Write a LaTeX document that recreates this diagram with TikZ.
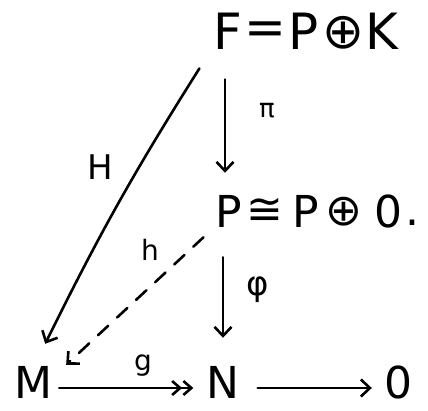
\documentclass[tikz,border=0pt]{standalone}
\usepackage{fontspec}
\setmainfont{DejaVu Sans}
\usetikzlibrary{arrows.meta}
\begin{document}
\begin{tikzpicture}[x=1pt,y=-1pt,
  big/.style={inner sep=0pt, font=\fontsize{50}{54}\selectfont},
  obj/.style={inner sep=0pt, font=\fontsize{44}{48}\selectfont},
  lab/.style={inner sep=0pt, font=\fontsize{28}{30}\selectfont},
  arr/.style={line width=2.6pt, line cap=round, -{Straight Barb[length=9pt,width=17pt]}},
  epi/.style={line width=2.6pt, line cap=round, -{Straight Barb[length=8pt,width=14pt] Straight Barb[length=8pt,width=14pt]}},
  dsh/.style={arr, dash pattern=on 14pt off 12pt},
]
\useasboundingbox (0,0) rectangle (428,410);
% top row
\node[big] (F)   at (228,31) {F};
\node[big] (eq)  at (265,33) {=};
\node[big] (P2)  at (304,31) {P};
\node[big] (op1) at (343,33) {⊕};
\node[big] (K)   at (382,31) {K};
% middle row
\node[obj] (P1)   at (229,211) {P};
\node[obj] (cong) at (265,211) {≅};
\node[obj] (P3)   at (306,211) {P};
\node[obj] (op2)  at (344,212) {⊕};
\node[obj] (Z1)   at (388,211) {0};
\node[obj] (dot)  at (412,223) {.};
% bottom row
\node[obj] (M)  at (33,382) {M};
\node[obj] (N)  at (223,382) {N};
\node[obj] (Z2) at (398,382) {0};
% labels
\node[lab, font=\fontsize{34}{36}\selectfont] (lH) at (100,167) {H};
\node[lab, font=\fontsize{26}{28}\selectfont] (lpi) at (267,111) {π};
\node[lab] (lh) at (150,250) {h};
\node[lab, font=\fontsize{34}{36}\selectfont] (lphi) at (258,290) {φ};
\node[lab] (lg) at (143,366) {g};
% arrows
\draw[arr, shorten <=30pt, shorten >=22pt] ([xshift=-3pt]F.south) -- ([xshift=-4pt]P1.north);
\draw[arr, shorten <=30pt, shorten >=28pt] ([xshift=-6pt]P1.south) -- (N.north);
\draw[arr] ([shift={(-14,19)}]F.south west) to[bend right=3] ([shift={(-7,-22)}]M.north east);
\draw[dsh] ([shift={(-12,10)}]P1.south west) -- ([shift={(14,-1)}]M.north east);
\draw[epi] ([shift={(7,6)}]M.east) -- ([shift={(-13,6)}]N.west);
\draw[arr] ([shift={(18,6)}]N.east) -- ([shift={(-12,6)}]Z2.west);
\end{tikzpicture}
\end{document}
